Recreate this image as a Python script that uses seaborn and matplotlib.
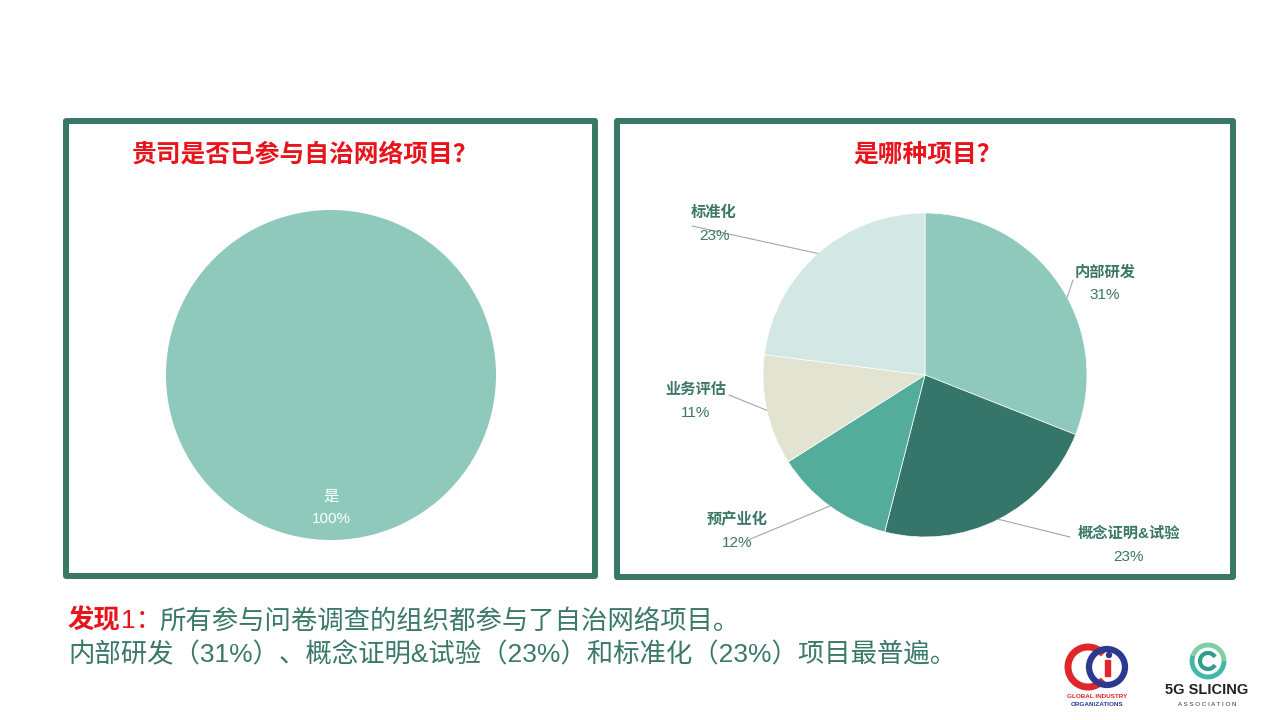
import numpy as np
import matplotlib
matplotlib.use("Agg")
import matplotlib.pyplot as plt
import seaborn as sns
from matplotlib.patches import Rectangle, Circle, Arc

# ---------------- data ----------------
left_title = "贵司是否已参与自治网络项目？"
left_labels = ["是"]
left_values = [100]

right_title = "是哪种项目？"
right_labels = ["内部研发", "概念证明&试验", "预产业化", "业务评估", "标准化"]
right_values = [31, 23, 12, 11, 23]

finding_head = "发现"
finding_num = "1："
finding_line1 = "所有参与问卷调查的组织都参与了自治网络项目。"
finding_line2 = "内部研发（31%）、概念证明&试验（23%）和标准化（23%）项目最普遍。"

# ---------------- style ----------------
sns.set_theme(style="white")
plt.rcParams['font.family'] = ['Liberation Sans', 'Noto Sans CJK SC', 'DejaVu Sans']

TEAL_DARK = "#3B7767"
TEXT_TEAL = "#3A7868"
RED = "#E8141B"
left_colors = ["#8FC9BB"]
right_colors = ["#8FC9BC", "#36766A", "#53AD9A", "#E3E3D1", "#D3E8E4"]

W, H = 1280, 720
fig = plt.figure(figsize=(12.8, 7.2), dpi=100)
fig.patch.set_facecolor("white")

# background overlay axes in pixel coords
bg = fig.add_axes([0, 0, 1, 1])
bg.set_xlim(0, W)
bg.set_ylim(H, 0)
bg.axis("off")
bg.set_zorder(0)

lw_pt = 6 * 72 / 100
for (x0, y0, x1, y1) in [(66, 121, 595, 576), (617, 121, 1233, 577)]:
    bg.add_patch(Rectangle((x0, y0), x1 - x0, y1 - y0, fill=False,
                           edgecolor=TEAL_DARK, linewidth=lw_pt, joinstyle="round"))

bg.text(132, 155, left_title, color=RED, fontsize=17.8, fontweight="bold",
        ha="left", va="center")
bg.text(853, 155, right_title, color=RED, fontsize=17.8, fontweight="bold",
        ha="left", va="center")

# ---------------- left pie ----------------
cx, cy, r = 331, 375, 165
axl = fig.add_axes([(cx - r) / W, (H - cy - r) / H, 2 * r / W, 2 * r / H])
axl.set_zorder(1)
axl.patch.set_alpha(0)
axl.pie(left_values, colors=left_colors, startangle=90, counterclock=False,
        radius=1.0, wedgeprops=dict(linewidth=0))
axl.set_xlim(-1, 1)
axl.set_ylim(-1, 1)
axl.set_aspect("equal")
axl.axis("off")
axl.text(0, -0.735, left_labels[0], color="white", fontsize=11, ha="center", va="center")
axl.text(0, -0.87, f"{left_values[0]}%", color="white", fontsize=11, ha="center", va="center")

# ---------------- right pie ----------------
cx2, cy2, r2 = 925, 375, 162
px0, px1, py0, py1 = 640, 1215, 190, 575
axr = fig.add_axes([px0 / W, (H - py1) / H, (px1 - px0) / W, (py1 - py0) / H])
axr.set_zorder(1)
axr.patch.set_alpha(0)
wedges, _ = axr.pie(right_values, colors=right_colors, startangle=90, counterclock=False,
                    radius=1.0, wedgeprops=dict(linewidth=0.5, edgecolor="white"))
axr.set_xlim((px0 - cx2) / r2, (px1 - cx2) / r2)
axr.set_ylim((cy2 - py1) / r2, (cy2 - py0) / r2)
axr.set_aspect("equal")
axr.axis("off")

def to_data(px, py):
    return ((px - cx2) / r2, (cy2 - py) / r2)

# label layout (pixel positions of label name centre, leader end)
label_pos = [(1105, 272), (1129, 534), (737, 520), (696, 390), (714, 213)]
leader_end = [(1073, 280), (1070, 537), (748, 540), (729, 395), (692, 226)]
start_frac = [0.45, 0.5, 0.5, 0.5, 0.5]  # angular position within wedge

for w, lab, val, (lx, ly), (ex, ey), fr in zip(wedges, right_labels, right_values,
                                                 label_pos, leader_end, start_frac):
    ang = np.deg2rad(w.theta1 + (w.theta2 - w.theta1) * fr)
    sx, sy = np.cos(ang), np.sin(ang)
    exd, eyd = to_data(ex, ey)
    axr.plot([sx, exd], [sy, eyd], color="#A6A6A6", linewidth=0.8, clip_on=False, zorder=3)
    tx, ty = to_data(lx, ly)
    axr.text(tx, ty, lab, color=TEAL_DARK, fontsize=11, fontweight="bold",
             ha="center", va="center", clip_on=False)
    tx2, ty2 = to_data(lx, ly + 23)
    axr.text(tx2, ty2, f"{val}%", color=TEAL_DARK, fontsize=11,
             ha="center", va="center", clip_on=False)

# ---------------- findings text ----------------
fig.canvas.draw()
renderer = fig.canvas.get_renderer()
FS = 19.0
x = 68
y1 = 621
t = bg.text(x, y1, finding_head, color=RED, fontsize=FS, fontweight="bold",
            ha="left", va="center")
bb = t.get_window_extent(renderer)
x += bb.width
t = bg.text(x, y1, finding_num, color=RED, fontsize=FS, ha="left", va="center")
bb = t.get_window_extent(renderer)
x += bb.width - 3
bg.text(x, y1, finding_line1, color=TEXT_TEAL, fontsize=FS, ha="left", va="center")
bg.text(68, 655, finding_line2, color=TEXT_TEAL, fontsize=FS, ha="left", va="center")

# ---------------- logos ----------------
# Global Industry Organizations
bg.add_patch(Arc((1088, 667), 40, 40, theta1=40, theta2=320, color="#E0262B", linewidth=5))
bg.add_patch(Circle((1107, 667), 18, fill=False, edgecolor="#2B3A8F", linewidth=4.5))
bg.add_patch(Rectangle((1105, 660), 5, 16, color="#E0262B"))
bg.add_patch(Circle((1109, 655), 2.5, color="#2B3A8F"))
bg.text(1097, 697, "GLOBAL INDUSTRY", color="#E0262B", fontsize=4.6, fontweight="bold",
        ha="center", va="center", family=["Liberation Sans"])
bg.text(1097, 704, "ORGANIZATIONS", color="#2B3A8F", fontsize=4.6, fontweight="bold",
        ha="center", va="center", family=["Liberation Sans"])
# 5G Slicing Association
bg.add_patch(Arc((1208, 661), 32, 32, theta1=0, theta2=200, color="#43B8A8", linewidth=3.5))
bg.add_patch(Arc((1208, 661), 32, 32, theta1=200, theta2=360, color="#7FD0A0", linewidth=3.5))
bg.add_patch(Arc((1208, 661), 16, 16, theta1=30, theta2=330, color="#2F9C8C", linewidth=3))
bg.text(1207, 690, "5G SLICING", color="#222222", fontsize=10.5, fontweight="bold",
        ha="center", va="center", family=["Liberation Sans"])
bg.text(1207, 705, "A S S O C I A T I O N", color="#333333", fontsize=4.5,
        ha="center", va="center", family=["Liberation Sans"])

fig.savefig("out.png", dpi=100, facecolor="white")
